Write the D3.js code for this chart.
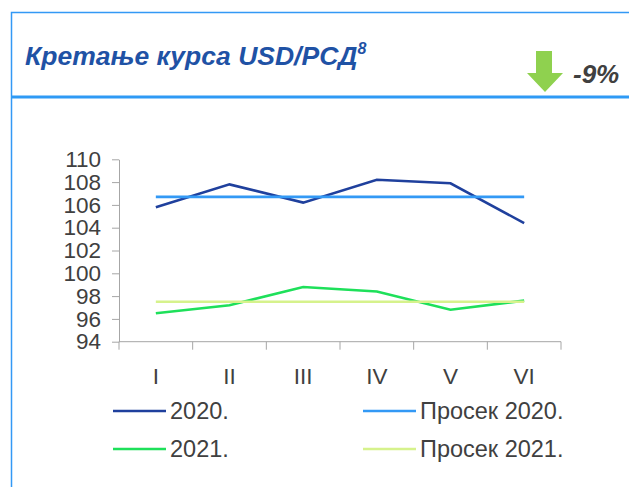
<!DOCTYPE html>
<html>
<head>
<meta charset="utf-8">
<script src="https://cdn.jsdelivr.net/npm/d3@7"></script>
<style>
  body { margin: 0; background: #fff; }
  svg { display: block; font-family: "Liberation Sans", Arial, sans-serif; }
</style>
</head>
<body>
<svg id="chart" width="629" height="487"></svg>
<script>
// months and values
const months = ["I", "II", "III", "IV", "V", "VI"];
const usd2020 = [105.8, 107.8, 106.2, 108.2, 107.9, 104.4];
const usd2021 = [96.5, 97.2, 98.8, 98.4, 96.8, 97.6];
const avg2020 = [106.7, 106.7, 106.7, 106.7, 106.7, 106.7];
const avg2021 = [97.5, 97.5, 97.5, 97.5, 97.5, 97.5];
const yTicks = [94, 96, 98, 100, 102, 104, 106, 108, 110];

const series = [
  { name: "2020.", values: usd2020, color: "#1f409d" },
  { name: "Просек 2020.", values: avg2020, color: "#3399f5" },
  { name: "2021.", values: usd2021, color: "#1ee05a" },
  { name: "Просек 2021.", values: avg2021, color: "#d6f28c" }
];

const svg = d3.select("#chart");

// frame
svg.append("path")
  .attr("d", "M11.5,487 V12.5 H629")
  .attr("fill", "none")
  .attr("stroke", "#3399f5")
  .attr("stroke-width", 1.5);
svg.append("line")
  .attr("x1", 11).attr("x2", 629)
  .attr("y1", 97).attr("y2", 97)
  .attr("stroke", "#2e9af5")
  .attr("stroke-width", 3);

// title
const title = svg.append("text")
  .attr("x", 25).attr("y", 65)
  .attr("fill", "#1f52a5")
  .attr("font-size", 26.5)
  .attr("font-weight", "bold")
  .attr("font-style", "italic");
title.append("tspan").text("Кретање курса USD/РСД");
title.append("tspan").attr("font-size", 16).attr("dy", -11).text("8");

// down arrow + change
svg.append("path")
  .attr("d", "M536,51 H552 V73 H563 L545,92 L527,73 H536 Z")
  .attr("fill", "#8fd14f");
svg.append("text")
  .attr("x", 573).attr("y", 83)
  .attr("fill", "#404040")
  .attr("font-size", 26)
  .attr("font-weight", "bold")
  .attr("font-style", "italic")
  .text("-9%");

// scales
const x = d3.scaleBand().domain(months).range([119, 561]);
const y = d3.scaleLinear().domain([94, 110]).range([341.7, 159.3]);

// y axis
const yAxis = svg.append("g")
  .attr("transform", "translate(119,0)")
  .call(d3.axisLeft(y).tickValues(yTicks).tickSize(7).tickSizeOuter(0).tickPadding(11));
yAxis.select(".domain").attr("stroke", "#a6a6a6");
yAxis.selectAll(".tick line").attr("stroke", "#a6a6a6");
yAxis.selectAll(".tick text")
  .attr("font-size", 22.5)
  .attr("fill", "#404040")
  .attr("font-family", "Liberation Sans, Arial, sans-serif");

// x axis: line, boundary ticks, centered labels
const xg = svg.append("g").attr("transform", "translate(0,341.7)");
xg.append("line")
  .attr("x1", x.range()[0]).attr("x2", x.range()[1])
  .attr("stroke", "#a6a6a6");
const bounds = months.map(m => x(m)).concat([x.range()[1]]);
xg.selectAll(".xt").data(bounds).join("line")
  .attr("x1", d => d).attr("x2", d => d)
  .attr("y1", 0).attr("y2", 8)
  .attr("stroke", "#a6a6a6");
xg.selectAll(".xl").data(months).join("text")
  .attr("x", d => x(d) + x.bandwidth() / 2)
  .attr("y", 42)
  .attr("text-anchor", "middle")
  .attr("font-size", 22.5)
  .attr("fill", "#404040")
  .text(d => d);

// lines
const line = d3.line()
  .x((d, i) => x(months[i]) + x.bandwidth() / 2)
  .y(d => y(d));

svg.selectAll(".series").data(series).join("path")
  .attr("d", d => line(d.values))
  .attr("fill", "none")
  .attr("stroke", d => d.color)
  .attr("stroke-width", 2.6);

// legend
const legend = svg.selectAll(".leg").data(series).join("g")
  .attr("transform", (d, i) => `translate(${i % 2 ? 363 : 113},${i < 2 ? 411 : 449})`);
legend.append("line")
  .attr("x1", 0).attr("x2", 53)
  .attr("stroke", d => d.color)
  .attr("stroke-width", 2.6);
legend.append("text")
  .attr("x", 57).attr("y", 8)
  .attr("font-size", 23.5)
  .attr("fill", "#404040")
  .text(d => d.name);
</script>
</body>
</html>
